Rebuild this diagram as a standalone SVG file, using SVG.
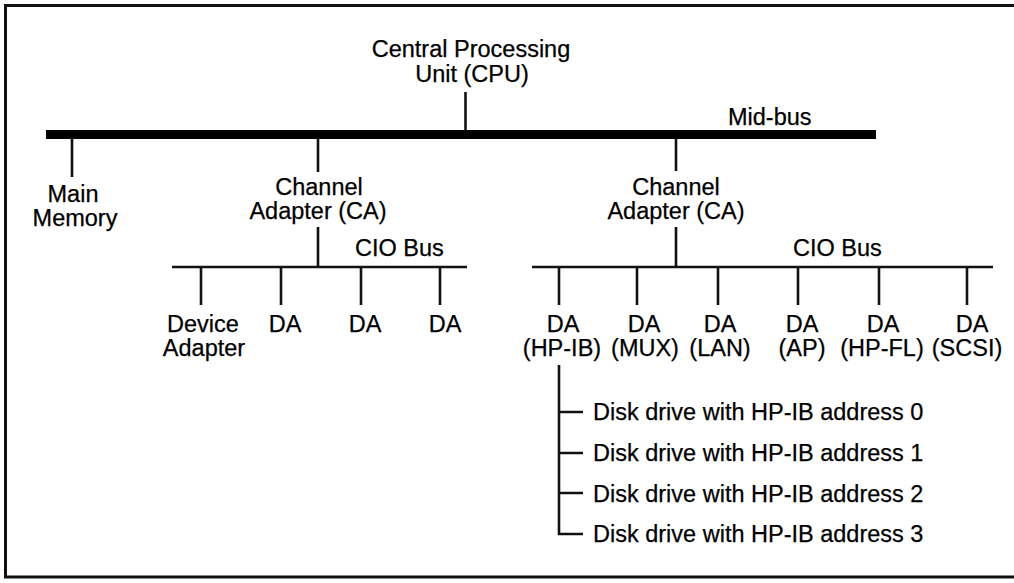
<svg xmlns="http://www.w3.org/2000/svg" width="1014" height="583" viewBox="0 0 1014 583">
<style>
text{font-family:"Liberation Sans",Arial,Helvetica,sans-serif;font-size:23.5px;fill:#000;stroke:#000;stroke-width:0.25}
.c{text-anchor:middle}
.ln{stroke:#111;stroke-width:2.6;fill:none}
.bus{stroke:#000;stroke-width:9;fill:none}
.frame{stroke:#111;stroke-width:3;fill:none}
</style>
<rect width="1014" height="583" fill="#fff"/>
<path class="frame" d="M1020,5.5 H5.5 V577 H1020"/>
<g id="connectors">
<line class="bus" x1="46" y1="134.5" x2="876" y2="134.5"/>
<line class="ln" x1="465.5" y1="92" x2="465.5" y2="131"/>
<line class="ln" x1="72" y1="138" x2="72" y2="177"/>
<line class="ln" x1="318" y1="138" x2="318" y2="172"/>
<line class="ln" x1="318" y1="227" x2="318" y2="267"/>
<line class="ln" x1="676" y1="138" x2="676" y2="171"/>
<line class="ln" x1="676" y1="227" x2="676" y2="267"/>
<line class="ln" x1="172" y1="267" x2="467" y2="267"/>
<line class="ln" x1="201" y1="267" x2="201" y2="305"/>
<line class="ln" x1="281" y1="267" x2="281" y2="305"/>
<line class="ln" x1="361" y1="267" x2="361" y2="305"/>
<line class="ln" x1="440" y1="267" x2="440" y2="305"/>
<line class="ln" x1="532" y1="267" x2="993" y2="267"/>
<line class="ln" x1="559" y1="267" x2="559" y2="305"/>
<line class="ln" x1="637" y1="267" x2="637" y2="305"/>
<line class="ln" x1="718" y1="267" x2="718" y2="305"/>
<line class="ln" x1="798" y1="267" x2="798" y2="305"/>
<line class="ln" x1="879" y1="267" x2="879" y2="305"/>
<line class="ln" x1="967" y1="267" x2="967" y2="305"/>
<path class="ln" d="M559,365 V534 H583 M559,412 H583 M559,453 H583 M559,493 H583"/>
</g>
<g id="cpu"><text class="c" y="57"><tspan x="471">Central Processing</tspan><tspan x="472" dy="25">Unit (CPU)</tspan></text></g>
<g id="midbus-label"><text x="728" y="125">Mid-bus</text></g>
<g id="main-memory"><text class="c" y="202"><tspan x="73">Main</tspan><tspan x="75" dy="24">Memory</tspan></text></g>
<g id="ca-left"><text class="c" y="194.5"><tspan x="319">Channel</tspan><tspan x="318" dy="24">Adapter (CA)</tspan></text></g>
<g id="ca-right"><text class="c" y="194.5"><tspan x="676">Channel</tspan><tspan x="676" dy="24">Adapter (CA)</tspan></text></g>
<g id="cio-left-label"><text x="355" y="256">CIO Bus</text></g>
<g id="cio-right-label"><text x="793" y="256">CIO Bus</text></g>
<g id="da-device"><text class="c" y="331.5"><tspan x="203">Device</tspan><tspan x="204" dy="24">Adapter</tspan></text></g>
<g id="da-l2"><text class="c" x="285" y="332">DA</text></g>
<g id="da-l3"><text class="c" x="365" y="332">DA</text></g>
<g id="da-l4"><text class="c" x="445" y="332">DA</text></g>
<g id="da-hpib"><text class="c" y="332"><tspan x="563">DA</tspan><tspan x="562" dy="24">(HP-IB)</tspan></text></g>
<g id="da-mux"><text class="c" y="332"><tspan x="644">DA</tspan><tspan x="645" dy="24">(MUX)</tspan></text></g>
<g id="da-lan"><text class="c" y="332"><tspan x="720">DA</tspan><tspan x="720" dy="24">(LAN)</tspan></text></g>
<g id="da-ap"><text class="c" y="332"><tspan x="802">DA</tspan><tspan x="802" dy="24">(AP)</tspan></text></g>
<g id="da-hpfl"><text class="c" y="332"><tspan x="883">DA</tspan><tspan x="882" dy="24">(HP-FL)</tspan></text></g>
<g id="da-scsi"><text class="c" y="332"><tspan x="972">DA</tspan><tspan x="967" dy="24">(SCSI)</tspan></text></g>
<g id="disk0"><text x="593" y="420">Disk drive with HP-IB address 0</text></g>
<g id="disk1"><text x="593" y="461">Disk drive with HP-IB address 1</text></g>
<g id="disk2"><text x="593" y="502">Disk drive with HP-IB address 2</text></g>
<g id="disk3"><text x="593" y="542">Disk drive with HP-IB address 3</text></g>
</svg>
